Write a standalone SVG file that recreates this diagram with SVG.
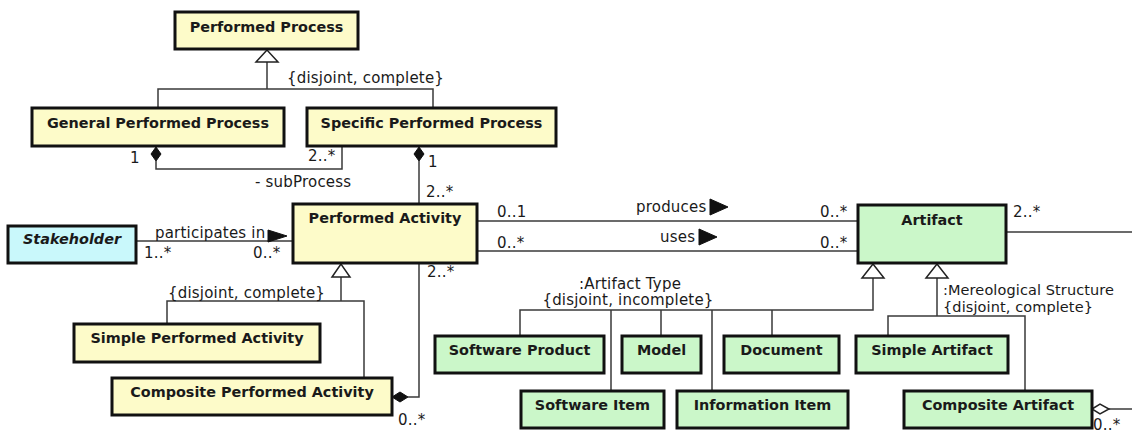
<svg xmlns="http://www.w3.org/2000/svg" width="1132" height="434" viewBox="0 0 1132 434">
<style>
text{font-family:"DejaVu Sans","Liberation Sans",sans-serif;fill:#1a1a1a}
.n{font-size:14.4px;font-weight:bold;text-anchor:middle}
.l{font-size:15px;letter-spacing:0.2px}
.s{font-size:14.5px;letter-spacing:0.1px}
.y{fill:#fdfbc9;stroke:#111;stroke-width:3}
.g{fill:#cbf7c9;stroke:#111;stroke-width:3}
.b{fill:#c9f8fb;stroke:#111;stroke-width:3}
.c{fill:none;stroke:#3a3a3a;stroke-width:1.5}
.tri{fill:#fff;stroke:#222;stroke-width:1.5}
.fd{fill:#111;stroke:#111;stroke-width:1}
.hd{fill:#fff;stroke:#222;stroke-width:1.5}
</style>
<rect width="1132" height="434" fill="#fff"/>
<g id="connectors">
  <!-- Performed Process generalization -->
  <path class="c" d="M267,62 V89 M158,108 V89 H433 V108"/>
  <polygon class="tri" points="267,50 256,62 278,62"/>
  <text class="l" x="287" y="83">{disjoint, complete}</text>
  <!-- subProcess -->
  <path class="c" d="M156,161 V169 H342 V146"/>
  <polygon class="fd" points="156,147 161,154 156,161 151,154"/>
  <text class="l" x="130" y="163">1</text>
  <text class="l" x="308" y="161">2..*</text>
  <text class="l" x="255" y="187">- subProcess</text>
  <!-- Specific -> Performed Activity -->
  <path class="c" d="M419,161 V204"/>
  <polygon class="fd" points="419,147 424,154 419,161 414,154"/>
  <text class="l" x="428" y="167">1</text>
  <text class="l" x="426" y="197">2..*</text>
  <!-- participates in -->
  <path class="c" d="M136,241 H293"/>
  <text class="l" x="155" y="238">participates in</text>
  <polygon class="fd" points="268,230 287,236 268,242"/>
  <text class="l" x="144" y="258">1..*</text>
  <text class="l" x="253" y="258">0..*</text>
  <!-- Performed Activity generalization -->
  <path class="c" d="M341,277 V301 M167,324 V301 H364 V378"/>
  <polygon class="tri" points="341,264 332,277 350,277"/>
  <text class="l" x="168" y="298">{disjoint, complete}</text>
  <!-- Composite Performed Activity composition -->
  <path class="c" d="M408,397 H419 V263"/>
  <polygon class="fd" points="392,397 400,392 408,397 400,402"/>
  <text class="l" x="427" y="277">2..*</text>
  <text class="l" x="398" y="425">0..*</text>
  <!-- produces -->
  <path class="c" d="M477,221 H858"/>
  <text class="l" x="497" y="217">0..1</text>
  <text class="l" x="636" y="212">produces</text>
  <polygon class="fd" points="710,199 728,207 710,215"/>
  <text class="l" x="820" y="217">0..*</text>
  <!-- uses -->
  <path class="c" d="M477,251 H858"/>
  <text class="l" x="497" y="248">0..*</text>
  <text class="l" x="660" y="242">uses</text>
  <polygon class="fd" points="699,229 717,237 699,245"/>
  <text class="l" x="820" y="248">0..*</text>
  <!-- Artifact Type generalization -->
  <path class="c" d="M873,278 V310 H520 V336 M611,310 V391 M661,310 V336 M712,310 V391 M772,310 V336"/>
  <polygon class="tri" points="873,264 862,278 884,278"/>
  <text class="l" x="630" y="289" text-anchor="middle">:Artifact Type</text>
  <text class="l" x="628" y="305" text-anchor="middle">{disjoint, incomplete}</text>
  <!-- Mereological Structure generalization -->
  <path class="c" d="M937,278 V316 M888,336 V316 H1025 V391"/>
  <polygon class="tri" points="937,264 926,278 948,278"/>
  <text class="s" x="943" y="295">:Mereological Structure</text>
  <text class="s" x="943" y="312">{disjoint, complete}</text>
  <!-- Artifact part-whole -->
  <path class="c" d="M1006,232 H1132"/>
  <text class="l" x="1013" y="217">2..*</text>
  <path class="c" d="M1109,409 H1132"/>
  <polygon class="hd" points="1092,409 1100,404 1109,409 1100,414"/>
  <text class="l" x="1093" y="430">0..*</text>
</g>
<g id="performed-process"><rect class="y" x="175" y="12" width="183" height="37"/><text class="n" x="266.5" y="32">Performed Process</text></g>
<g id="general-performed-process"><rect class="y" x="32" y="108" width="252" height="38"/><text class="n" x="158" y="128">General Performed Process</text></g>
<g id="specific-performed-process"><rect class="y" x="307" y="108" width="249" height="38"/><text class="n" x="431.5" y="128">Specific Performed Process</text></g>
<g id="performed-activity"><rect class="y" x="293" y="204" width="184" height="59"/><text class="n" x="385" y="223">Performed Activity</text></g>
<g id="stakeholder"><rect class="b" x="8" y="226" width="128" height="37"/><text class="n" x="72" y="244" font-style="italic">Stakeholder</text></g>
<g id="simple-performed-activity"><rect class="y" x="74" y="324" width="246" height="38"/><text class="n" x="197" y="343">Simple Performed Activity</text></g>
<g id="composite-performed-activity"><rect class="y" x="112" y="378" width="280" height="37"/><text class="n" x="252" y="397">Composite Performed Activity</text></g>
<g id="artifact"><rect class="g" x="858" y="205" width="148" height="58"/><text class="n" x="932" y="225">Artifact</text></g>
<g id="software-product"><rect class="g" x="435" y="336" width="169" height="37"/><text class="n" x="519.5" y="355">Software Product</text></g>
<g id="model"><rect class="g" x="622" y="336" width="79" height="37"/><text class="n" x="661.5" y="355">Model</text></g>
<g id="document"><rect class="g" x="724" y="336" width="115" height="37"/><text class="n" x="781.5" y="355">Document</text></g>
<g id="simple-artifact"><rect class="g" x="856" y="336" width="152" height="37"/><text class="n" x="932" y="355">Simple Artifact</text></g>
<g id="software-item"><rect class="g" x="521" y="391" width="143" height="37"/><text class="n" x="592.5" y="410">Software Item</text></g>
<g id="information-item"><rect class="g" x="677" y="391" width="171" height="37"/><text class="n" x="762.5" y="410">Information Item</text></g>
<g id="composite-artifact"><rect class="g" x="904" y="391" width="188" height="37"/><text class="n" x="998" y="410">Composite Artifact</text></g>
</svg>
